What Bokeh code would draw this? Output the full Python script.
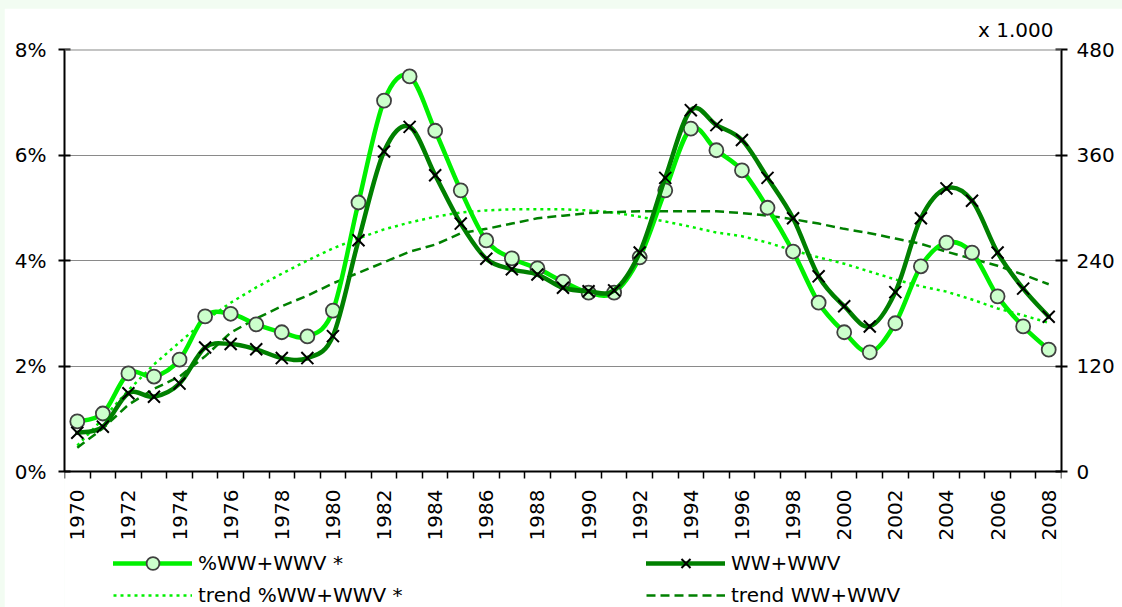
import numpy as np
from bokeh.plotting import figure
from bokeh.models import (Range1d, LinearAxis, FixedTicker, PrintfTickFormatter,
                          Legend, LegendItem, Title, Span)
from bokeh.embed import file_html
from bokeh.resources import INLINE

# ---------------- data ----------------
years = list(range(1970, 2009))
pct_ww_wwv = [0.95, 1.10, 1.86, 1.80, 2.12, 2.94, 2.99, 2.79, 2.64, 2.56,
              3.05, 5.10, 7.03, 7.49, 6.46, 5.33, 4.38, 4.04, 3.85, 3.60,
              3.39, 3.39, 4.06, 5.33, 6.50, 6.09, 5.71, 5.00, 4.17, 3.20,
              2.64, 2.26, 2.81, 3.89, 4.34, 4.15, 3.32, 2.75, 2.31]
ww_wwv = [44, 51, 89, 85, 100, 141, 145, 139, 129, 129,
          154, 263, 364, 392, 337, 282, 242, 230, 224, 209,
          205, 206, 249, 334, 411, 394, 377, 334, 288, 222,
          188, 165, 204, 288, 322, 308, 249, 208, 176]
trend_pct = [0.49, 1.00, 1.54, 2.03, 2.45, 2.86, 3.20, 3.49, 3.75, 4.00,
             4.23, 4.42, 4.59, 4.72, 4.83, 4.91, 4.95, 4.97, 4.97, 4.97,
             4.95, 4.91, 4.83, 4.74, 4.64, 4.53, 4.46, 4.34, 4.19, 4.06,
             3.94, 3.79, 3.64, 3.51, 3.41, 3.26, 3.09, 2.96, 2.82]
trend_ww = [27, 49, 76, 94, 108, 131, 158, 174, 188, 200,
            214, 226, 238, 250, 258, 271, 276, 282, 288, 291,
            294, 295, 296, 296, 296, 296, 294, 291, 287, 282,
            276, 271, 265, 259, 250, 242, 234, 224, 213]
pct_ticks = [0, 2, 4, 6, 8]
right_ticks = [0, 120, 240, 360, 480]
year_label_ticks = years[::2]
label_pct = "%WW+WWV *"
label_ww = "WW+WWV"
label_trend_pct = "trend %WW+WWV *"
label_trend_ww = "trend WW+WWV"
unit_note = "x 1.000"

FONT = "DejaVu Sans"
FS = "20px"
BRIGHT = "#00F000"
DARK = "#008000"
GRID = "#8a8a8a"

# layout (pixels): plot box 422 px tall for 0..8 %, 136 px below it for labels/legend
BOX_H = 422
BELOW_H = 136
pct_lo = -pct_ticks[-1] * BELOW_H / BOX_H
ratio = right_ticks[-1] / pct_ticks[-1]


def bezier_parts(xs, ys):
    x = np.asarray(xs, float)
    y = np.asarray(ys, float)
    xp = np.concatenate([[x[0]], x, [x[-1]]])
    yp = np.concatenate([[y[0]], y, [y[-1]]])
    return dict(
        x0=xp[1:-2], y0=yp[1:-2], x1=xp[2:-1], y1=yp[2:-1],
        cx0=xp[1:-2] + (xp[2:-1] - xp[:-3]) / 6.0,
        cy0=yp[1:-2] + (yp[2:-1] - yp[:-3]) / 6.0,
        cx1=xp[2:-1] - (xp[3:] - xp[1:-2]) / 6.0,
        cy1=yp[2:-1] - (yp[3:] - yp[1:-2]) / 6.0,
    )


p = figure(width=1118, height=599,
           x_range=Range1d(years[0] - 0.5, years[-1] + 0.5),
           y_range=Range1d(pct_lo, pct_ticks[-1]),
           output_backend="svg", toolbar_location=None,
           min_border_left=60, min_border_right=61,
           min_border_top=41, min_border_bottom=0)
p.extra_y_ranges = {"right": Range1d(pct_lo * ratio, right_ticks[-1])}
p.background_fill_color = "white"
p.border_fill_color = "white"
p.outline_line_color = None

p.title = Title(text=unit_note, align="right", text_font=FONT, text_font_size=FS,
                text_font_style="normal", text_color="black", offset=8,
                standoff=15)

# grid
p.xgrid.visible = False
p.ygrid.grid_line_color = GRID
p.ygrid.grid_line_width = 1
p.add_layout(Span(location=pct_ticks[-1], dimension="width",
                  line_color=GRID, line_width=2))

# x axis, drawn at 0 %
xa = p.xaxis[0]
xa.fixed_location = pct_ticks[0]
xa.ticker = FixedTicker(ticks=year_label_ticks,
                        minor_ticks=[y - 0.5 for y in years] + [years[-1] + 0.5])
xa.major_tick_line_color = None
xa.major_tick_out = 7
xa.major_tick_in = 0
xa.minor_tick_out = 7
xa.minor_tick_in = 0
xa.minor_tick_line_color = "black"
xa.minor_tick_line_width = 1.5
xa.axis_line_width = 2
xa.axis_line_color = "black"
xa.major_label_orientation = np.pi / 2
xa.major_label_standoff = 11
xa.major_label_text_font = FONT
xa.major_label_text_font_size = FS
xa.major_label_text_color = "black"

# left axis
ya = p.yaxis[0]
ya.ticker = FixedTicker(ticks=pct_ticks)
ya.bounds = (pct_ticks[0], pct_ticks[-1])
ya.formatter = PrintfTickFormatter(format="%d%%")
ya.major_tick_in = 6
ya.major_tick_out = 6
ya.major_tick_line_width = 2
ya.minor_tick_line_color = None
ya.axis_line_width = 2
ya.major_label_standoff = 12
ya.major_label_text_font = FONT
ya.major_label_text_font_size = FS
ya.major_label_text_color = "black"

# right axis
ra = LinearAxis(y_range_name="right", ticker=FixedTicker(ticks=right_ticks),
                bounds=(right_ticks[0], right_ticks[-1]))
ra.major_tick_in = 6
ra.major_tick_out = 6
ra.major_tick_line_width = 2
ra.minor_tick_line_color = None
ra.axis_line_width = 2
ra.major_label_standoff = 9
ra.major_label_text_font = FONT
ra.major_label_text_font_size = FS
ra.major_label_text_color = "black"
p.add_layout(ra, "right")

# trends
tr_pct = p.line(years, trend_pct, line_color=BRIGHT, line_width=2.5, line_dash="3 4")
tr_ww = p.line(years, trend_ww, line_color=DARK, line_width=2.5, line_dash="9 5",
               y_range_name="right")

# series 1 (percent, left axis)
s1_line = p.bezier(line_color=BRIGHT, line_width=4.5, line_cap="round",
                   **bezier_parts(years, pct_ww_wwv))
s1_pts = p.scatter(years, pct_ww_wwv, marker="circle", size=14,
                   fill_color="#CCFFCC", line_color="#404040", line_width=1.8)

# series 2 (thousands, right axis)
s2_line = p.bezier(line_color=DARK, line_width=4.5, line_cap="round",
                   y_range_name="right", **bezier_parts(years, ww_wwv))
s2_pts = p.scatter(years, ww_wwv, marker="x", size=17, line_color="black",
                   line_width=2, y_range_name="right")


def add_legend(label, rends, loc, gh):
    p.add_layout(Legend(items=[LegendItem(label=label, renderers=rends)],
                        location=loc, orientation="horizontal",
                        glyph_width=79, glyph_height=gh, label_height=gh,
                        label_standoff=6, spacing=0, padding=0, margin=0,
                        border_line_color=None, background_fill_alpha=0,
                        label_text_font=FONT, label_text_font_size=FS,
                        label_text_color="black"))


add_legend(label_pct, [s1_line, s1_pts], (49, 28), 32)
add_legend(label_ww, [s2_line, s2_pts], (582, 28), 32)
add_legend(label_trend_pct, [tr_pct], (49, 0), 18)
add_legend(label_trend_ww, [tr_ww], (582, 0), 18)

html = file_html(p, INLINE)
html = html.replace("<head>",
                    "<head><style>body{background:#f2fcf2 !important;"
                    "padding:8px 0 0 4px !important;}</style>", 1)
open("out.html", "w").write(html)
